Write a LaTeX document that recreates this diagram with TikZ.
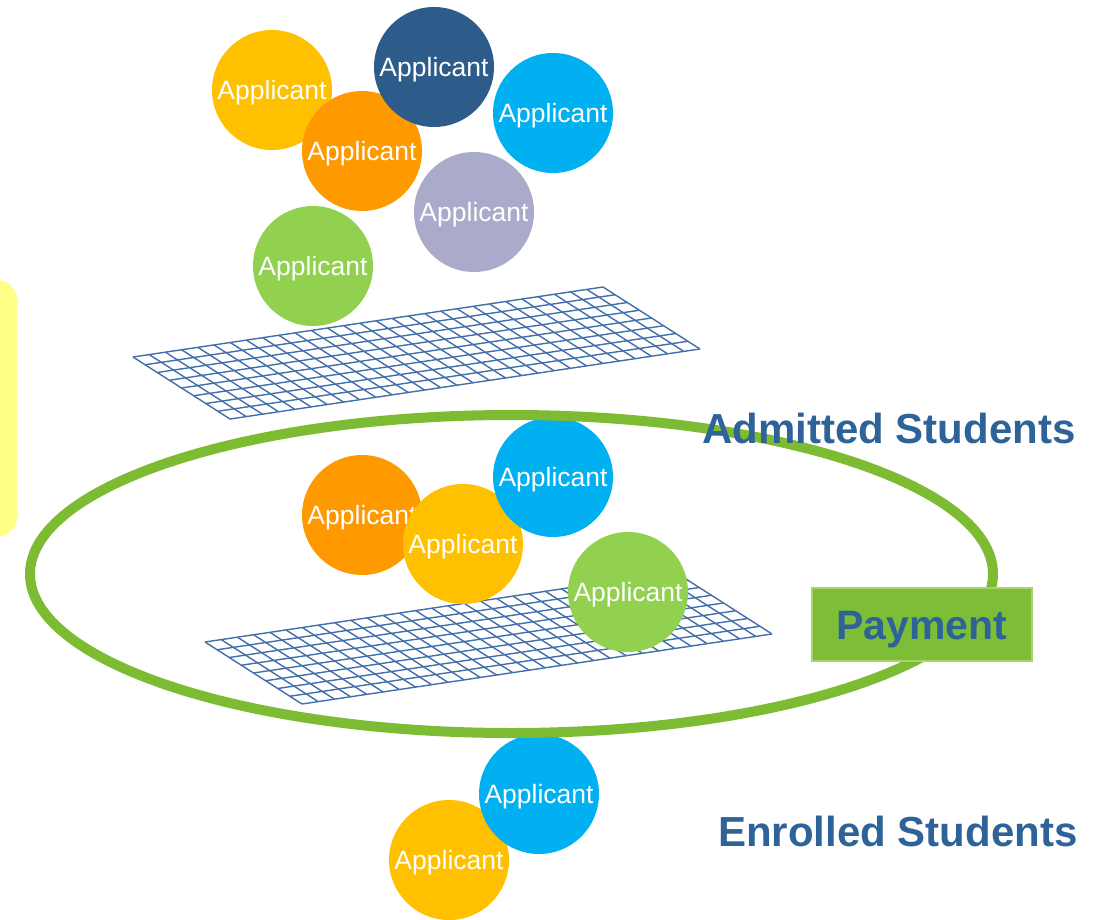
\documentclass[tikz,border=0pt]{standalone}
\usepackage{xcolor}
\usepackage{tikz}
\usepackage{fontspec}
\setmainfont{Liberation Sans}
\usetikzlibrary{shapes,positioning,calc}
\definecolor{appyellow}{RGB}{255,192,0}
\definecolor{apporange}{RGB}{255,153,0}
\definecolor{appnavy}{RGB}{46,92,138}
\definecolor{appcyan}{RGB}{0,176,240}
\definecolor{applavender}{RGB}{170,171,203}
\definecolor{appgreen}{RGB}{146,208,80}
\definecolor{ringgreen}{RGB}{125,187,50}
\definecolor{stageblue}{RGB}{46,99,153}
\definecolor{paygreen}{RGB}{125,190,54}
\definecolor{payborder}{RGB}{168,212,110}
\definecolor{noteyellow}{RGB}{255,255,136}
\definecolor{meshblue}{RGB}{66,110,170}

\begin{document}
\begin{tikzpicture}[x=1pt, y=-1pt,
        applicant/.style={circle, fill=#1, minimum size=120pt, inner sep=0pt,
            text=white, font=\fontsize{26.5}{30}\selectfont,
            text height=19pt, text depth=0pt},
        stagetext/.style={inner sep=0pt, text=stageblue,
            font=\fontsize{42}{50}\selectfont\bfseries},
        meshline/.style={meshblue, line width=1.4pt}]
        \useasboundingbox (0,0) rectangle (1110,920);

        % Side note
        \fill[noteyellow, rounded corners=20pt] (-40,280) rectangle (17,537);

        % Meshes
        \foreach \gx/\gy in {133/357, 205/642} {
            \begin{scope}[shift={(\gx,\gy)}, x={(16.207pt,2.414pt)}, y={(12.125pt,-7.75pt)}]
                \foreach \i in {0,...,29}
                    \draw[meshline] (\i,0) -- (\i,8);
                \foreach \j in {0,...,8}
                    \draw[meshline] (0,\j) -- (29,\j);
            \end{scope}
        }

        % Applicants
        \node[applicant=appyellow] (top1) at (272,90) {Applicant};
        \node[applicant=apporange] (top2) at (362,151) {Applicant};
        \node[applicant=appnavy] (top3) at (434,67) {Applicant};
        \node[applicant=appcyan] (top4) at (553,113) {Applicant};
        \node[applicant=applavender] (top5) at (474,212) {Applicant};
        \node[applicant=appgreen] (top6) at (313,266) {Applicant};

        % Admitted
        \node[applicant=apporange] (mid1) at (362,515) {Applicant};
        \node[applicant=appyellow] (mid2) at (463,544) {Applicant};
        \node[applicant=appcyan] (mid3) at (553,477) {Applicant};
        \node[applicant=appgreen] (mid4) at (628,592) {Applicant};

        % Enrolled
        \node[applicant=appyellow] (low1) at (449,860) {Applicant};
        \node[applicant=appcyan] (low2) at (539,794) {Applicant};

        % Ring
        \draw[ringgreen, line width=10pt] (511.5,574) ellipse (481.5 and 159);

        % Stages
        \node[stagetext, anchor=base west] (admitted) at (702,443) {Admitted Students};
        \node[stagetext, anchor=base west] (enrolled) at (718,846) {Enrolled Students};
        \node[stagetext, rectangle, fill=paygreen, draw=payborder, line width=1.5pt,
            minimum width=220pt, minimum height=73pt, text height=30pt, text depth=0pt,
            font=\fontsize{41}{50}\selectfont\bfseries] (payment) at (922,624.5) {Payment};
    \end{tikzpicture}
\end{document}
